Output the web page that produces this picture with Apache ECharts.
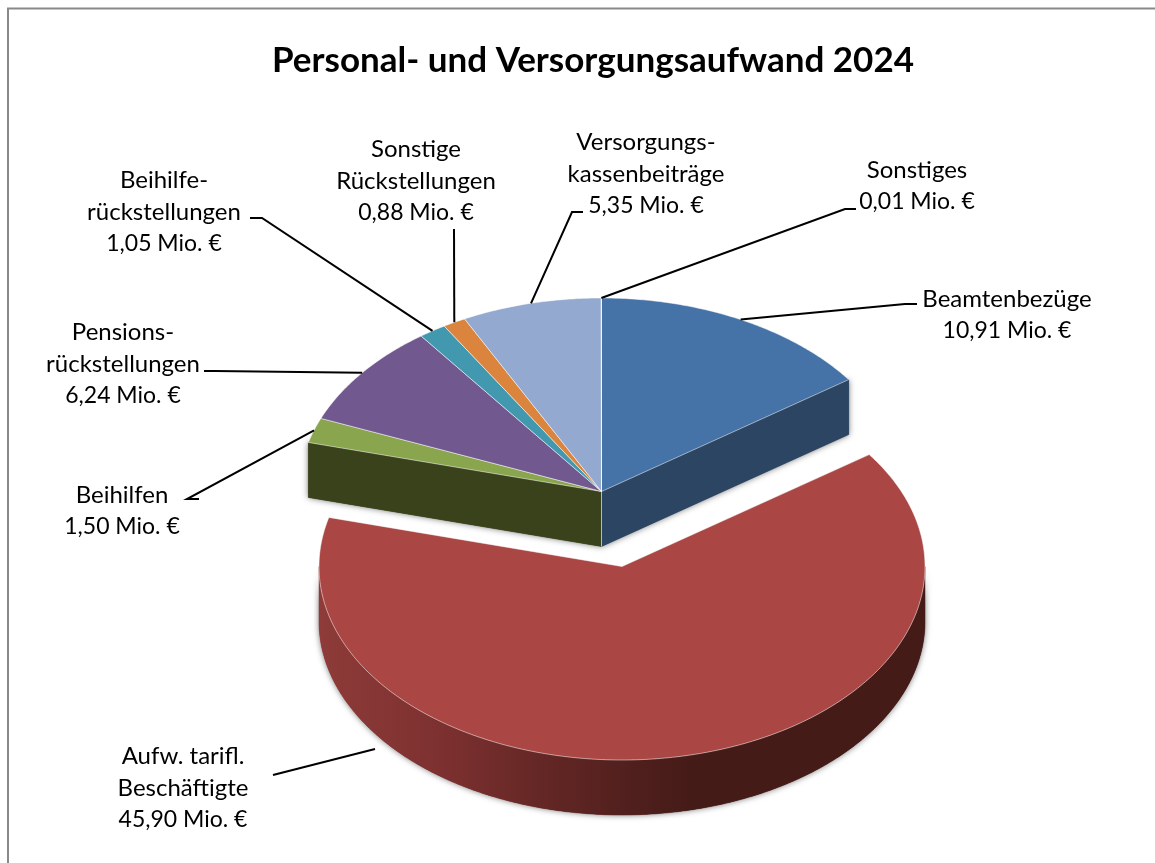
<!DOCTYPE html>
<html><head><meta charset="utf-8">
<style>html,body{margin:0;padding:0;background:#fff}#c{width:1155px;height:863px}</style>
<script src="https://cdn.jsdelivr.net/npm/echarts@6/dist/echarts.min.js"></script>
</head><body><div id="c"></div>
<script>
const chartTitle = 'Personal- und Versorgungsaufwand 2024';
const categories = [
  ['Beamtenbezüge'],
  ['Aufw. tarifl.', 'Beschäftigte'],
  ['Beihilfen'],
  ['Pensions-', 'rückstellungen'],
  ['Beihilfe-', 'rückstellungen'],
  ['Sonstige', 'Rückstellungen'],
  ['Versorgungs-', 'kassenbeiträge'],
  ['Sonstiges']
];
const values = [10.91, 45.90, 1.50, 6.24, 1.05, 0.88, 5.35, 0.01];
const topColors = ['#4572A7', '#AA4643', '#89A54E', '#71588F', '#4198AF', '#DB843D', '#93A9CF', '#B9CDE5'];
const wallColors = ['#2B4563', '#451B18', '#3A421C', '#43345A', '#275A68', '#83501F', '#58657C', '#6F7B89'];
const exploded = [0, 1, 0, 0, 0, 0, 0, 0];

// layout only
const centre = [601.5, 491.5], radiusX = 303, radiusY = 193.5, depth = 55;
const explodeShift = [20.5, 75];
const labelCentres = [[1007, 315], [183, 788], [122, 511], [123, 364], [164, 212], [416, 181], [646, 174], [917, 186]];
const leaderElbows = [[[917, 304], [905, 304]], [[273, 775]], [[199, 499], [187, 499]], [[204, 371], [215, 371]], [[250, 218], [262, 218]], [[454, 229]], [[583, 212], [572, 212]], [[856, 209], [845, 209]]];
const leaderEndOverride = {1: [375, 749]};

const total = values.reduce((a, b) => a + b, 0);
const starts = [];
values.reduce((acc, v, i) => { starts[i] = acc; return acc + v; }, 0);
const deg = v => v / total * 360;
function rim(c, a) {
  const r = a * Math.PI / 180;
  return [c[0] + radiusX * Math.sin(r), c[1] - radiusY * Math.cos(r)];
}
function arc(c, a0, a1) {
  const pts = [], n = Math.max(2, Math.ceil((a1 - a0) / 0.5));
  for (let k = 0; k <= n; k++) pts.push(rim(c, a0 + (a1 - a0) * k / n));
  return pts;
}
const down = p => [p[0], p[1] + depth];
const shadow = {shadowBlur: 6, shadowColor: 'rgba(0,0,0,0.55)'};
const redGrad = {type: 'linear', x: 319, y: 0, x2: 690, y2: 0, global: true, colorStops: [
  {offset: 0, color: '#8E3B39'}, {offset: 0.35, color: '#7B302F'}, {offset: 0.6, color: '#642725'},
  {offset: 0.82, color: '#52201E'}, {offset: 1, color: '#451B18'}]};

function renderItem(params, api) {
  const i = params.dataIndex;
  const a0 = deg(starts[i]), a1 = deg(starts[i] + values[i]);
  const ex = exploded[i];
  const c = ex ? [centre[0] + explodeShift[0], centre[1] + explodeShift[1]] : centre;
  const children = [];
  const n = values.length;
  const solid = (points, fill) => {
    children.push({type: 'polygon', z2: 1, shape: {points}, style: Object.assign({fill}, shadow)});
    children.push({type: 'polygon', z2: 2, shape: {points}, style: {fill, stroke: fill, lineWidth: 0.5}});
  };
  const wall = (a) => {
    const p = rim(c, a);
    solid([c, p, down(p), down(c)], wallColors[i]);
    children.push({type: 'polyline', z2: 3, shape: {points: [c, down(c)]},
      style: {stroke: 'rgba(255,255,255,0.4)', lineWidth: 1, fill: null}});
  };
  // curved outer wall, front half only
  const f0 = Math.max(a0, 90), f1 = Math.min(a1, 270);
  if (f1 > f0) {
    const tp = arc(c, f0, f1);
    solid(tp.concat(tp.map(down).reverse()), ex ? redGrad : wallColors[i]);
  }
  // straight walls where the exploded slice leaves a gap
  if (exploded[(i + 1) % n] !== ex && Math.sin(a1 * Math.PI / 180) > 0) wall(a1);
  if (exploded[(i + n - 1) % n] !== ex && Math.sin(a0 * Math.PI / 180) < 0) wall(a0);
  // top face
  children.push({type: 'polygon', z2: 4, shape: {points: [c].concat(arc(c, a0, a1))},
    style: {fill: topColors[i], stroke: 'rgba(255,255,255,0.5)', lineWidth: 1}});
  // leader line
  const end = leaderEndOverride[i] || rim(c, (a0 + a1) / 2);
  children.push({type: 'polyline', z2: 5, shape: {points: leaderElbows[i].concat([end])},
    style: {stroke: '#000', lineWidth: 2, fill: null}});
  // label
  const lines = categories[i].map(s => '{n|' + s + '}');
  lines.push('{v|' + values[i].toFixed(2).replace('.', ',') + ' Mio. €}');
  children.push({type: 'text', z2: 6, x: labelCentres[i][0], y: labelCentres[i][1],
    style: {text: lines.join('\n'), fill: '#000', align: 'center', verticalAlign: 'middle',
      rich: {n: {font: '24px Lato', lineHeight: 32, fill: '#000'}, v: {font: '23px Lato', lineHeight: 32, fill: '#000'}}}});
  return {type: 'group', children};
}

const chart = echarts.init(document.getElementById('c'), null, {renderer: 'canvas'});
chart.setOption({
  animation: false,
  backgroundColor: '#fff',
  title: {text: chartTitle, left: 588, top: 38, textAlign: 'center',
    textStyle: {fontFamily: 'Lato', fontWeight: 'bold', fontSize: 35, color: '#000'}},
  graphic: [{type: 'rect', silent: true, z: -1, shape: {x: 8, y: 8.5, width: 1200, height: 900},
    style: {fill: 'none', stroke: '#898989', lineWidth: 2}}],
  series: [{type: 'custom', coordinateSystem: 'none', silent: true, renderItem,
    data: values.map((v, i) => [i, v])}]
});
</script></body></html>
